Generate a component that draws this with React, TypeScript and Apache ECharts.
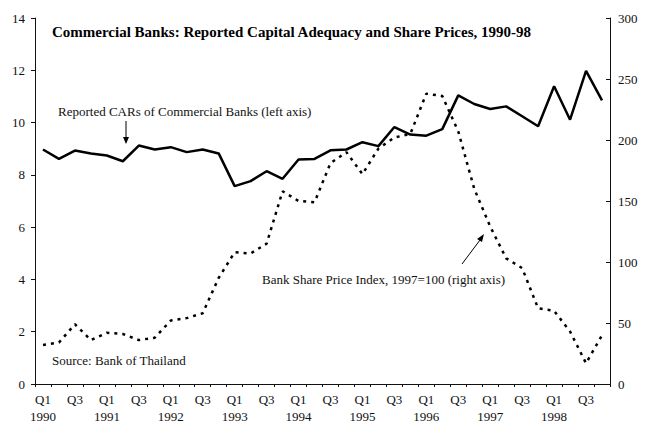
import React, { useEffect, useRef } from "react";
import * as echarts from "echarts";

const years = [1990, 1991, 1992, 1993, 1994, 1995, 1996, 1997, 1998];
const quarters = ["Q1", "Q2", "Q3", "Q4"];
const categories: string[] = [];
years.forEach((y) => quarters.forEach((q) => categories.push(`${q} ${y}`)));

// Reported CARs of commercial banks (left axis, percent)
const carValues = [
  8.97, 8.61, 8.93, 8.82, 8.74, 8.52, 9.12, 8.97, 9.06, 8.87, 8.97, 8.82,
  7.57, 7.76, 8.14, 7.85, 8.59, 8.61, 8.94, 8.97, 9.25, 9.1, 9.83, 9.54,
  9.5, 9.75, 11.04, 10.71, 10.52, 10.62, 10.24, 9.86, 11.39, 10.11, 11.98, 10.85,
];

// Bank share price index, 1997=100 (right axis)
const priceValues = [
  32, 34, 49, 36, 42, 41, 36, 38, 52, 54, 58, 87,
  108, 107, 115, 158, 150, 149, 181, 190, 172, 193, 202, 205,
  238, 236, 207, 160, 129, 103, 95, 62, 60, 43, 17, 40,
];

const leftAxis = { min: 0, max: 14, interval: 2 };
const rightAxis = { min: 0, max: 300, interval: 50 };

const title = "Commercial Banks: Reported Capital Adequacy and Share Prices, 1990-98";
const carLabel = "Reported CARs of Commercial Banks (left axis)";
const priceLabel = "Bank Share Price Index, 1997=100 (right axis)";
const sourceLabel = "Source: Bank of Thailand";

const FONT = "'Liberation Serif', 'DejaVu Serif', serif";
const INK = "#111";

export default function App() {
  const ref = useRef<HTMLDivElement>(null);

  useEffect(() => {
    if (!ref.current) return;
    const chart = echarts.init(ref.current, undefined, { renderer: "svg" });
    const axisLine = { show: true, lineStyle: { color: INK, width: 1 } };
    chart.setOption({
      animation: false,
      backgroundColor: "#fff",
      textStyle: { fontFamily: FONT, color: INK },
      grid: { left: 35, right: 40, top: 18, bottom: 40, containLabel: false },
      xAxis: [
        {
          type: "category",
          data: categories,
          position: "bottom",
          boundaryGap: true,
          axisLine,
          axisTick: { show: true, interval: 0, length: 3, lineStyle: { color: INK } },
          axisLabel: {
            interval: 1,
            margin: 7,
            fontSize: 13,
            lineHeight: 17,
            fontFamily: FONT,
            color: INK,
            formatter: (v: string) => {
              const [q, y] = v.split(" ");
              return q === "Q1" ? `${q}\n${y}` : q;
            },
          },
          splitLine: { show: false },
        },
        {
          type: "category",
          data: categories,
          position: "top",
          boundaryGap: true,
          axisLine,
          axisTick: { show: false },
          axisLabel: { show: false },
          splitLine: { show: false },
        },
      ],
      yAxis: [
        {
          type: "value",
          position: "left",
          ...leftAxis,
          axisLine,
          axisTick: { show: true, length: 4, lineStyle: { color: INK } },
          axisLabel: { margin: 10, fontSize: 13, fontFamily: FONT, color: INK },
          splitLine: { show: false },
        },
        {
          type: "value",
          position: "right",
          ...rightAxis,
          axisLine,
          axisTick: { show: true, inside: true, length: 4, lineStyle: { color: INK } },
          axisLabel: { margin: 8, fontSize: 13, fontFamily: FONT, color: INK },
          splitLine: { show: false },
        },
      ],
      series: [
        {
          name: "CAR",
          type: "line",
          data: carValues,
          xAxisIndex: 0,
          yAxisIndex: 0,
          symbol: "none",
          lineStyle: { color: "#000", width: 2.5 },
          z: 3,
        },
        {
          name: "Share price",
          type: "line",
          data: priceValues,
          xAxisIndex: 0,
          yAxisIndex: 1,
          symbol: "none",
          lineStyle: { color: "#000", width: 2.5, type: [3, 5] },
          z: 2,
        },
      ],
      graphic: [
        {
          type: "text",
          left: 52,
          top: 24,
          style: { text: title, font: `bold 15px ${FONT}`, fill: "#000" },
        },
        {
          type: "text",
          left: 58,
          top: 105,
          style: { text: carLabel, font: `13px ${FONT}`, fill: INK },
        },
        { type: "line", shape: { x1: 126, y1: 121, x2: 126, y2: 139 }, style: { stroke: "#000", lineWidth: 1 } },
        { type: "polygon", shape: { points: [[123, 137], [129, 137], [126, 144]] }, style: { fill: "#000" } },
        {
          type: "text",
          left: 262,
          top: 273,
          style: { text: priceLabel, font: `13px ${FONT}`, fill: INK },
        },
        { type: "line", shape: { x1: 462, y1: 264, x2: 480, y2: 240 }, style: { stroke: "#000", lineWidth: 1 } },
        { type: "polygon", shape: { points: [[477, 239], [482, 242], [484, 234]] }, style: { fill: "#000" } },
        {
          type: "text",
          left: 52,
          top: 354,
          style: { text: sourceLabel, font: `13px ${FONT}`, fill: INK },
        },
      ],
    });
    return () => chart.dispose();
  }, []);

  return (
    <div
      ref={ref}
      style={{ position: "fixed", left: 0, top: 0, width: 650, height: 425, background: "#fff" }}
    />
  );
}
